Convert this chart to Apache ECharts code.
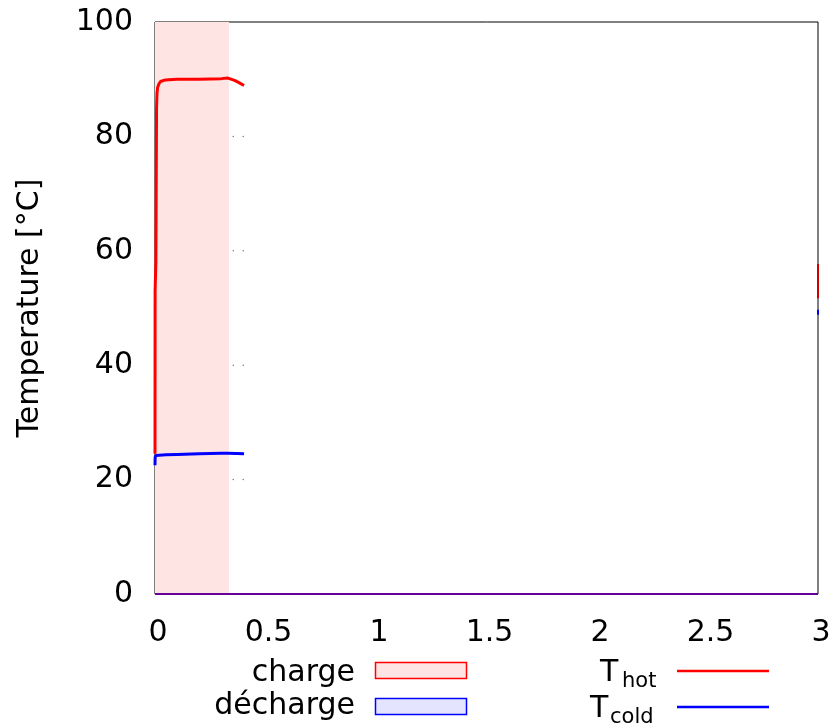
<!DOCTYPE html>
<html><head><meta charset="utf-8">
<script src="https://cdn.jsdelivr.net/npm/echarts@6/dist/echarts.min.js"></script>
<style>html,body{margin:0;padding:0;background:#fff}#c{width:830px;height:726px}</style>
</head><body><div id="c"></div>
<script>
// x: time, y: temperature [°C]
const xTicks = [0, 0.5, 1, 1.5, 2, 2.5, 3];
const yTicks = [0, 20, 40, 60, 80, 100];
const chargeRange = [0, 0.335];
const hotX = [0, 0.0005, 0.004, 0.007, 0.009, 0.012, 0.018, 0.025, 0.04, 0.06, 0.1, 0.2, 0.3, 0.33, 0.333, 0.336, 0.36, 0.38, 0.403];
const hotY = [24.5, 53, 58, 85, 87.5, 88.6, 89.2, 89.6, 89.8, 89.9, 90.0, 90.0, 90.1, 90.2, 90.4, 90.1, 89.8, 89.4, 88.9];
const coldX = [0, 0.0005, 0.003, 0.01, 0.05, 0.1, 0.2, 0.3, 0.33, 0.333, 0.336, 0.37, 0.403];
const coldY = [22.5, 23.8, 24.2, 24.3, 24.35, 24.4, 24.5, 24.6, 24.6, 24.9, 24.6, 24.55, 24.5];
const zeroX = [0, 3];
const zeroY = [0, 0];
const hotEndX = [3, 3];
const hotEndY = [51.7, 57.7];
const coldEndX = [3, 3];
const coldEndY = [48.8, 49.7];
const dotX = [0.354, 0.399, 0.354, 0.399, 0.354, 0.399, 0.354, 0.399];
const dotY = [80, 80, 60, 60, 40, 40, 20, 20];

const zip = (xs, ys) => xs.map((x, i) => [x, ys[i]]);
const FONT = 'DejaVu Sans';
const FS = 30;
const F = FS + 'px "DejaVu Sans"';
const FSUB = '21px "DejaVu Sans"';

const chart = echarts.init(document.getElementById('c'), null, {renderer: 'canvas'});
chart.setOption({
  animation: false,
  backgroundColor: '#fff',
  textStyle: {fontFamily: FONT},
  grid: {left: 155, right: 12, top: 22, bottom: 132, containLabel: false, outerBoundsMode: 'none', show: true, borderColor: '#000', borderWidth: 1, backgroundColor: 'transparent'},
  xAxis: {
    type: 'value', min: xTicks[0], max: xTicks[xTicks.length - 1], interval: 0.5,
    axisLine: {show: false}, axisTick: {show: false}, splitLine: {show: false},
    axisLabel: {fontFamily: FONT, fontSize: FS, color: '#000', margin: 24, padding: [0, 0, 0, 6]}
  },
  yAxis: {
    type: 'value', min: yTicks[0], max: yTicks[yTicks.length - 1], interval: 20,
    name: 'Temperature [°C]', nameLocation: 'middle', nameGap: 110,
    nameTextStyle: {fontFamily: FONT, fontSize: FS, color: '#000'},
    axisLine: {show: false}, axisTick: {show: false}, splitLine: {show: false},
    axisLabel: {fontFamily: FONT, fontSize: FS, color: '#000', margin: 22}
  },
  series: [
    {
      name: 'charge', type: 'line', data: [], silent: true,
      markArea: {silent: true, itemStyle: {color: '#ffe4e4'}, data: [[{xAxis: chargeRange[0]}, {xAxis: chargeRange[1]}]]}
    },
    {name: 'zeroHot', type: 'line', data: zip(zeroX, zeroY), showSymbol: false, lineStyle: {color: '#ff0000', width: 2}},
    {name: 'zeroCold', type: 'line', data: zip(zeroX, zeroY), showSymbol: false, lineStyle: {color: '#0000ff', width: 2, opacity: 0.6}},
    {name: 'T_hot', type: 'line', data: zip(hotX, hotY), showSymbol: false, lineStyle: {color: '#ff0000', width: 3}},
    {name: 'T_hot_end', type: 'line', data: zip(hotEndX, hotEndY), showSymbol: false, lineStyle: {color: '#cc0000', width: 2}},
    {name: 'T_cold', type: 'line', data: zip(coldX, coldY), showSymbol: false, lineStyle: {color: '#0000ff', width: 3}},
    {name: 'T_cold_end', type: 'line', data: zip(coldEndX, coldEndY), showSymbol: false, lineStyle: {color: '#0000ff', width: 2}},
    {name: 'dots', type: 'scatter', data: zip(dotX, dotY), symbolSize: 1.5, itemStyle: {color: '#555'}}
  ],
  graphic: [
    {type: 'text', style: {text: 'charge', x: 355, y: 673, align: 'right', verticalAlign: 'middle', font: F, fill: '#000'}},
    {type: 'rect', shape: {x: 375.5, y: 662.5, width: 91, height: 16}, style: {fill: '#ffe4e4', stroke: '#ff0000', lineWidth: 1.5}},
    {type: 'text', style: {text: 'décharge', x: 355, y: 706, align: 'right', verticalAlign: 'middle', font: F, fill: '#000'}},
    {type: 'rect', shape: {x: 375.5, y: 698.5, width: 91, height: 16}, style: {fill: '#e4e4ff', stroke: '#0000ff', lineWidth: 1.5}},
    {type: 'text', style: {text: 'T', x: 600, y: 673, align: 'left', verticalAlign: 'middle', font: F, fill: '#000'}},
    {type: 'text', style: {text: 'hot', x: 622, y: 682, align: 'left', verticalAlign: 'middle', font: FSUB, fill: '#000'}},
    {type: 'line', shape: {x1: 677, y1: 671, x2: 769, y2: 671}, style: {stroke: '#ff0000', lineWidth: 2.5}},
    {type: 'text', style: {text: 'T', x: 590, y: 709, align: 'left', verticalAlign: 'middle', font: F, fill: '#000'}},
    {type: 'text', style: {text: 'cold', x: 610, y: 718, align: 'left', verticalAlign: 'middle', font: FSUB, fill: '#000'}},
    {type: 'line', shape: {x1: 677, y1: 707, x2: 769, y2: 707}, style: {stroke: '#0000ff', lineWidth: 2.5}}
  ]
});
</script></body></html>
